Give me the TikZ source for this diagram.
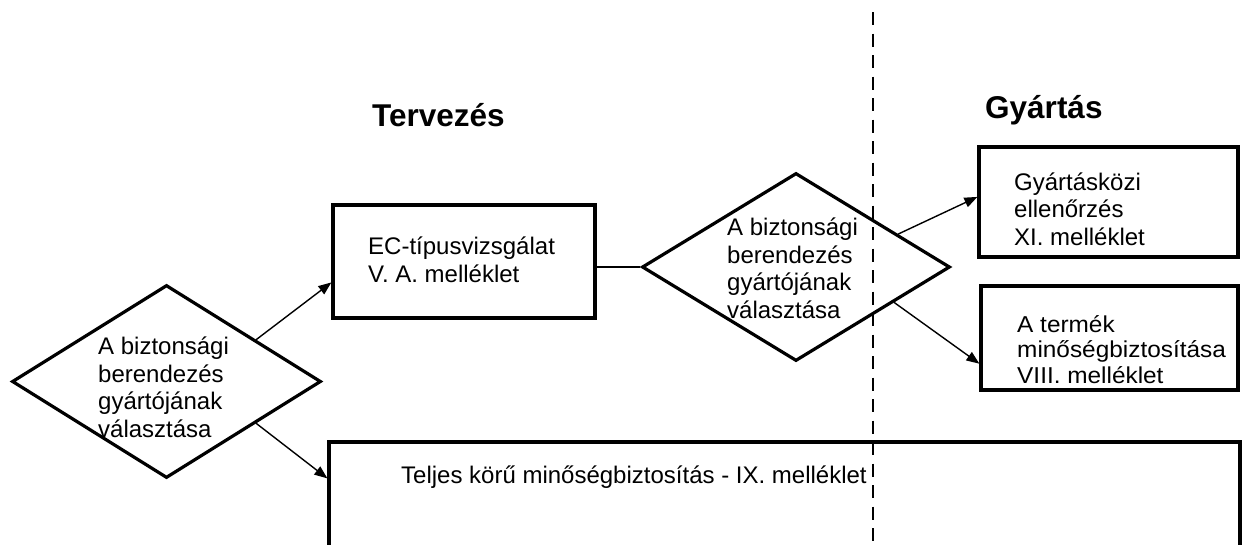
\documentclass[tikz,border=0pt]{standalone}
\usepackage{fontspec}
\setmainfont{Liberation Sans}
\newfontfamily\widefont[FakeStretch=1.06]{Liberation Sans}
\usetikzlibrary{shapes.geometric,arrows.meta,calc}
\begin{document}
\begin{tikzpicture}[x=1pt,y=-1pt,
  box/.style={draw, line width=3.2pt, rectangle, inner sep=0pt},
  dia/.style={draw, line width=3.2pt, diamond, inner sep=0pt},
  arr/.style={line width=1.4pt, -{Triangle[length=13pt,width=10pt]}},
  conn/.style={line width=1.4pt},
  divider/.style={line width=1.8pt, dash pattern=on 13pt off 8.5pt},
  txt/.style={anchor=base west, align=left, inner sep=0pt, font=\fontsize{24}{27.5}\selectfont},
  ttl/.style={anchor=base west, inner sep=0pt, font=\fontsize{31.5}{34}\selectfont\bfseries}]
\useasboundingbox (0,0) rectangle (1247,544);
% divider
\coordinate (dtop) at (873,12);
\coordinate (dbot) at (873,560);
\draw[divider] (dtop) -- (dbot);
% shapes
\node[dia, minimum width=309pt, minimum height=193pt] (d1) at (166.5,381.5) {};
\node[dia, minimum width=308pt, minimum height=188pt] (d2) at (796,267) {};
\node[box, minimum width=262pt, minimum height=113pt] (ec) at (464,261.5) {};
\node[box, minimum width=259pt, minimum height=110pt] (xi) at (1108.5,202) {};
\node[box, minimum width=257pt, minimum height=104pt] (viii) at (1109.5,338) {};
\node[box, minimum width=911pt, minimum height=140pt] (bot) at (784.5,512) {};
% titles
\node[ttl] (t1) at (372,126) {Tervezés};
\node[ttl] (t2) at (985,118) {Gyártás};
% texts (anchored at the baseline of the last line)
\node[txt] (d1t) at (98,437) {A biztonsági\\berendezés\\gyártójának\\választása};
\node[txt] (d2t) at (727,318) {A biztonsági\\berendezés\\gyártójának\\választása};
\node[txt] (ect) at (368,282) {EC-típusvizsgálat\\V. A. melléklet};
\node[txt] (xit) at (1014,245) {Gyártásközi\\ellenőrzés\\XI. melléklet};
\node[txt, font=\widefont\fontsize{23}{25.5}\selectfont] (viiit) at (1017,383) {A termék\\minőségbiztosítása\\VIII. melléklet};
\node[txt] (bott) at (401,483) {Teljes körű minőségbiztosítás - IX. melléklet};
% connectors
\draw[arr] ($(d1.east)!0.426!(d1.north)$) -- ($(ec.south west)!0.32!(ec.north west)$);
\draw[arr] ($(d1.east)!0.426!(d1.south)$) -- ([yshift=-38pt]bot.north west);
\draw[conn] (d2.west) -- (d2.west -| ec.east);
\draw[arr] ($(d2.east)!0.344!(d2.north)$) -- ($(xi.south west)!0.545!(xi.north west)$);
\draw[arr] ($(d2.east)!0.37!(d2.south)$) -- ($(viii.south west)!0.26!(viii.north west)$);
\end{tikzpicture}
\end{document}
